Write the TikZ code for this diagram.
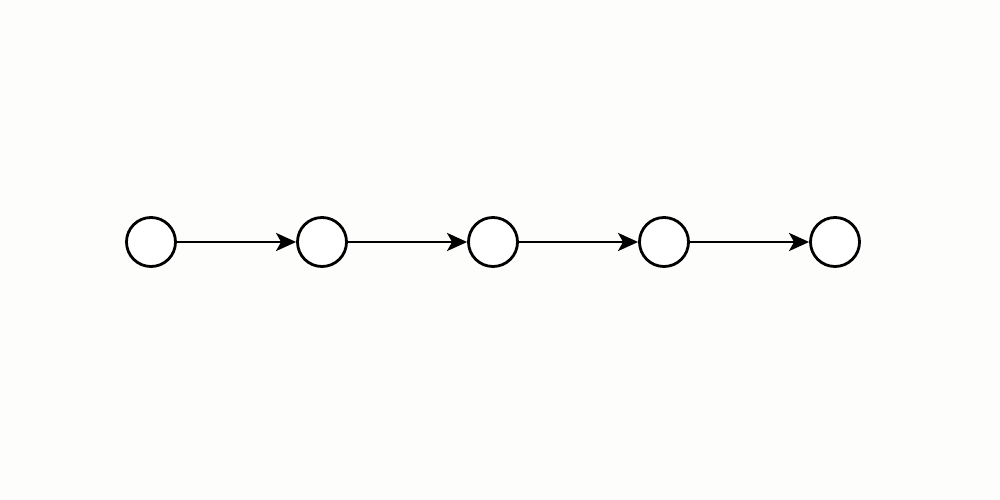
\documentclass[tikz,border=0pt]{standalone}
\usetikzlibrary{arrows.meta}
\definecolor{bgc}{HTML}{FDFDFB}
\begin{document}
\begin{tikzpicture}[x=0.01cm,y=0.01cm,
  vert/.style={circle,draw=black,fill=white,line width=0.028cm,inner sep=0pt,minimum size=0.49cm},
  edge/.style={line width=0.028cm,-{Stealth[length=0.2cm,width=0.18cm,inset=0.05cm]}}]
\fill[bgc] (0,0) rectangle (1000,500);
\useasboundingbox (0,0) rectangle (1000,500);
\node[vert] (n1) at (151,258) {};
\node[vert] (n2) at (322,258) {};
\node[vert] (n3) at (493,258) {};
\node[vert] (n4) at (664,258) {};
\node[vert] (n5) at (835,258) {};
\draw[edge] (n1) -- (n2);
\draw[edge] (n2) -- (n3);
\draw[edge] (n3) -- (n4);
\draw[edge] (n4) -- (n5);
\end{tikzpicture}
\end{document}
